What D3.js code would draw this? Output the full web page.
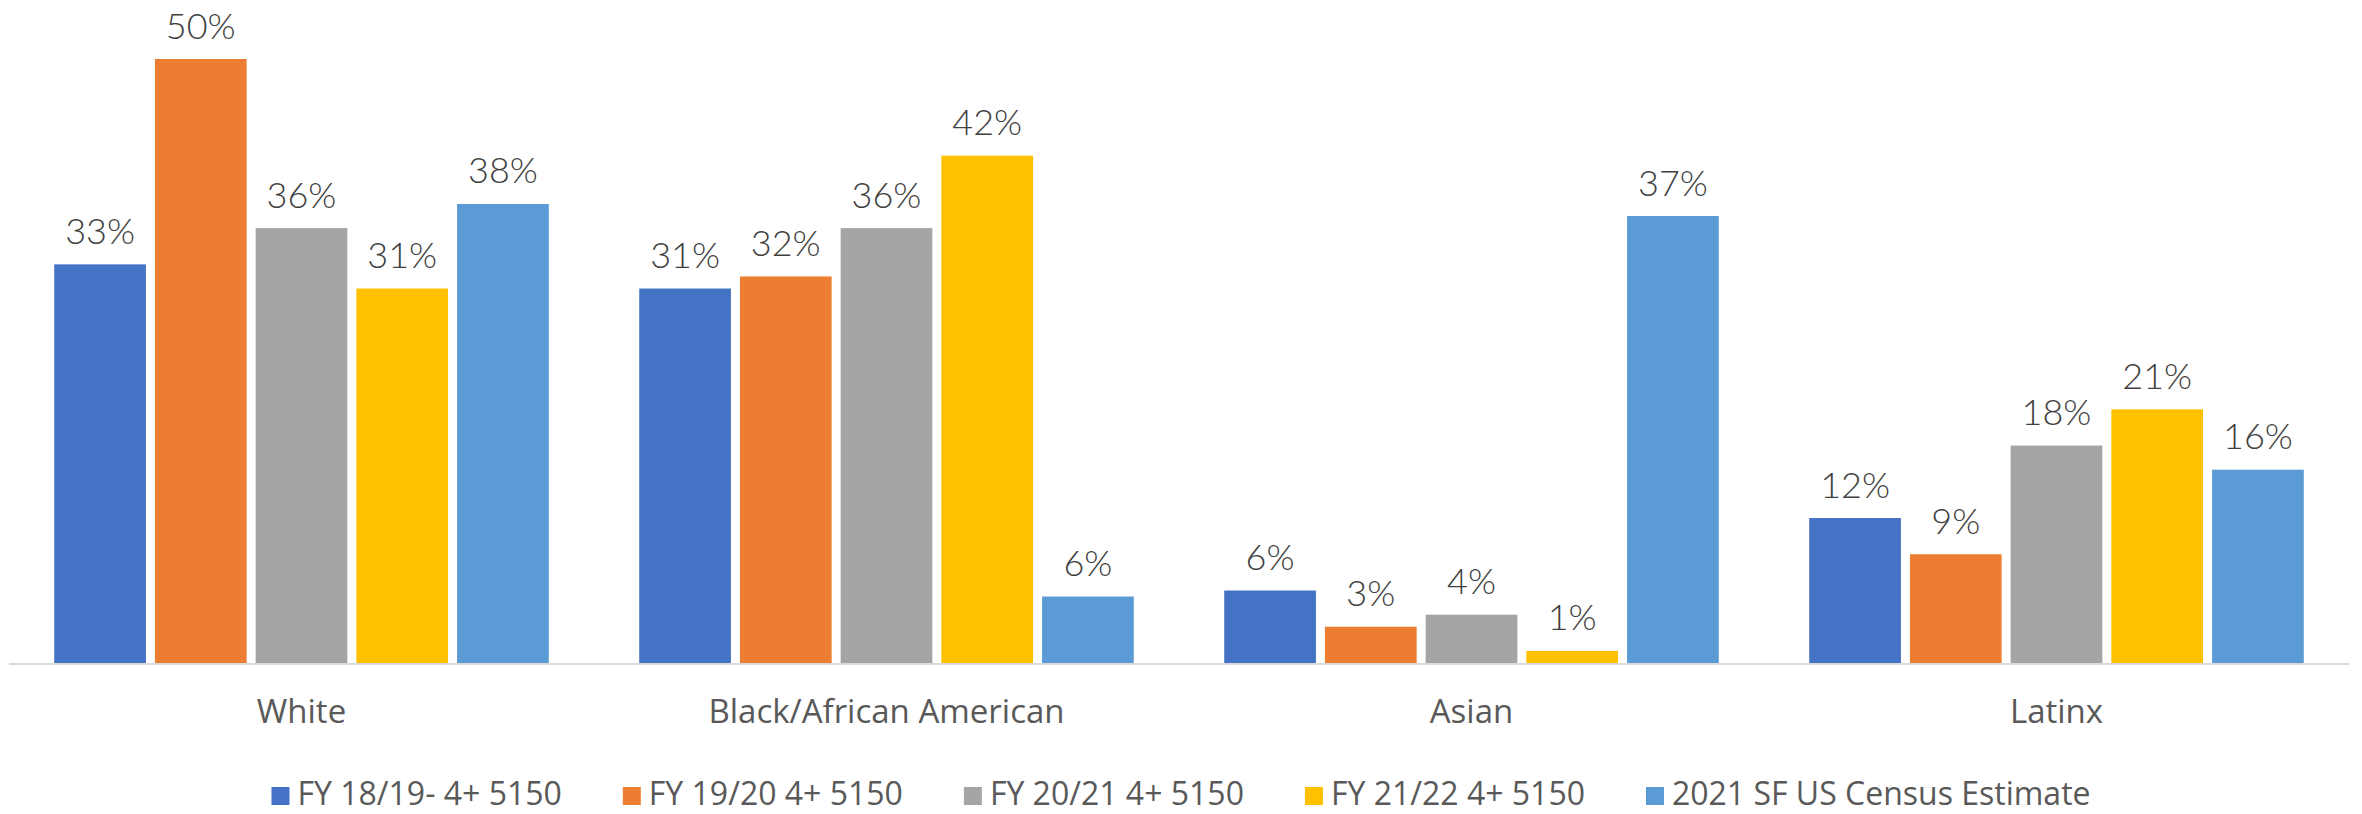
<!DOCTYPE html>
<html>
<head>
<meta charset="utf-8">
<script src="https://cdn.jsdelivr.net/npm/d3@7"></script>
<style>
  html, body { margin: 0; padding: 0; background: #fff; }
  svg { display: block; }
</style>
</head>
<body>
<div id="chart"></div>
<script>
// categories on the x axis
var categories = ['White', 'Black/African American', 'Asian', 'Latinx'];

// one series per year (+ census estimate), values in percent
var seriesNames = [
  'FY 18/19- 4+ 5150',
  'FY 19/20 4+ 5150',
  'FY 20/21 4+ 5150',
  'FY 21/22 4+ 5150',
  '2021 SF US Census Estimate'
];
var fy1819 = [33, 31, 6, 12];
var fy1920 = [50, 32, 3, 9];
var fy2021 = [36, 36, 4, 18];
var fy2122 = [31, 42, 1, 21];
var census2021 = [38, 5.5, 37, 16];

var seriesColors = ['#4472C4', '#ED7D31', '#A5A5A5', '#FFC000', '#5B9BD5'];

var width = 2362, height = 814;
var baseY = 663;

var seriesValues = [fy1819, fy1920, fy2021, fy2122, census2021];
var rows = [];
categories.forEach(function(cat, ci) {
  seriesNames.forEach(function(name, si) {
    rows.push({ cat: cat, series: name, idx: si, value: seriesValues[si][ci] });
  });
});

var svg = d3.select('#chart').append('svg')
  .attr('width', width)
  .attr('height', height);

var x0 = d3.scaleBand()
  .domain(categories)
  .range([9, 2349])
  .padding(0);

var x1 = d3.scaleBand()
  .domain(seriesNames)
  .range([0, x0.bandwidth()])
  .paddingInner(0.0894)
  .paddingOuter(0.449);

var y = d3.scaleLinear()
  .domain([0, 50])
  .range([baseY, baseY - 604]);

// bars
svg.append('g').selectAll('rect').data(rows).enter()
  .append('rect')
    .attr('x', function(d) { return x0(d.cat) + x1(d.series); })
    .attr('y', function(d) { return y(d.value); })
    .attr('width', x1.bandwidth())
    .attr('height', function(d) { return y(0) - y(d.value); })
    .attr('fill', function(d) { return seriesColors[d.idx]; });

// value labels
svg.append('g').selectAll('text').data(rows).enter()
  .append('text')
    .attr('x', function(d) { return x0(d.cat) + x1(d.series) + x1.bandwidth() / 2; })
    .attr('y', function(d) { return y(d.value) - 20.5; })
    .attr('text-anchor', 'middle')
    .attr('font-family', 'Lato, "Open Sans", sans-serif')
    .attr('font-weight', 300)
    .attr('font-size', 36)
    .attr('fill', '#404040')
    .text(function(d) { return Math.round(d.value) + '%'; });

// x axis line
svg.append('line')
  .attr('x1', x0.range()[0])
  .attr('x2', x0.range()[1])
  .attr('y1', baseY + 1)
  .attr('y2', baseY + 1)
  .attr('stroke', '#D9D9D9')
  .attr('stroke-width', 2);

// category labels
svg.append('g').selectAll('text').data(categories).enter()
  .append('text')
    .attr('x', function(d) { return x0(d) + x0.bandwidth() / 2; })
    .attr('y', 723)
    .attr('text-anchor', 'middle')
    .attr('font-family', '"Open Sans", sans-serif')
    .attr('font-size', 33)
    .attr('fill', '#595959')
    .text(function(d) { return d; });

// legend, laid out left to right then centred
var legend = svg.append('g');
var items = legend.selectAll('g').data(seriesNames).enter().append('g');
items.append('rect')
  .attr('x', 0)
  .attr('y', 805 - 18)
  .attr('width', 18)
  .attr('height', 18)
  .attr('fill', function(d, i) { return seriesColors[i]; });
items.append('text')
  .attr('x', 26)
  .attr('y', 805)
  .attr('font-family', '"Open Sans", sans-serif')
  .attr('font-size', 32)
  .attr('fill', '#595959')
  .text(function(d) { return d; });

var cursor = 0;
items.each(function() {
  var g = d3.select(this);
  g.attr('transform', 'translate(' + cursor + ',0)');
  cursor += 26 + g.select('text').node().getComputedTextLength() + 61;
});
var legendWidth = cursor - 61;
legend.attr('transform', 'translate(' + ((width - legendWidth) / 2) + ',0)');
</script>
</body>
</html>
